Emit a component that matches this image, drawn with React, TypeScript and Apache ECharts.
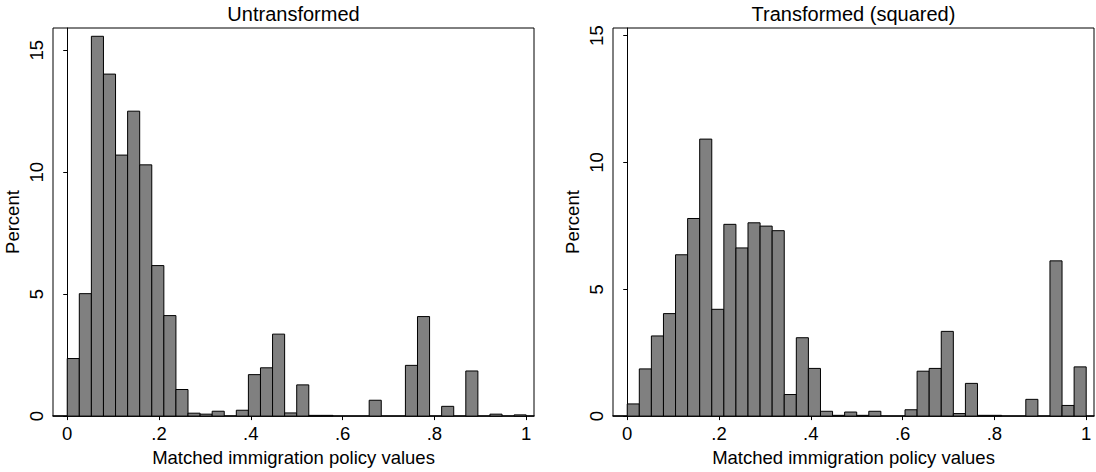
import React, { useEffect, useRef } from "react";
import * as echarts from "echarts";

// ---- data ----
const binCount = 38;
const binStart = 0;
const binEnd = 1;

const untransformedPercent = [
  2.36, 5.02, 15.57, 14.02, 10.7, 12.5, 10.3, 6.17, 4.12, 1.09,
  0.12, 0.08, 0.2, 0, 0.24, 1.7, 1.98, 3.36, 0.13, 1.28,
  0.03, 0.03, 0, 0, 0, 0.65, 0, 0, 2.08, 4.08,
  0, 0.4, 0, 1.85, 0, 0.08, 0, 0.05,
];

const squaredPercent = [
  0.48, 1.86, 3.16, 4.04, 6.36, 7.79, 10.92, 4.21, 7.56, 6.63,
  7.62, 7.49, 7.31, 0.85, 3.09, 1.88, 0.19, 0.03, 0.16, 0.03,
  0.19, 0, 0, 0.25, 1.77, 1.88, 3.34, 0.1, 1.29, 0.03,
  0.03, 0, 0, 0.66, 0, 6.12, 0.42, 1.94,
];

const xTickValues = [0, 0.2, 0.4, 0.6, 0.8, 1];
const yTickValues = [0, 5, 10, 15];
const panelTitles = ["Untransformed", "Transformed (squared)"];
const xAxisTitle = "Matched immigration policy values";
const yAxisTitle = "Percent";

// ---- chart ----
const FONT = '"Liberation Sans", Arial, Helvetica, sans-serif';

function toBins(values: number[]) {
  const w = (binEnd - binStart) / binCount;
  return values.map((v, i) => [binStart + i * w, binStart + (i + 1) * w, v]);
}

const renderBar = (params: any, api: any) => {
  const x0 = api.value(0);
  const x1 = api.value(1);
  const v = api.value(2);
  if (!v) return null;
  const p0 = api.coord([x0, v]);
  const p1 = api.coord([x1, 0]);
  return {
    type: "rect",
    shape: { x: p0[0], y: p0[1], width: p1[0] - p0[0], height: p1[1] - p0[1] },
    style: { fill: "#808080", stroke: "#000", lineWidth: 1 },
  };
};

const xFmt = (v: number) => (v === 0 ? "0" : v === 1 ? "1" : String(v).replace(/^0/, ""));

function makeXAxis(gridIndex: number) {
  return {
    type: "value",
    gridIndex,
    min: -0.031,
    max: 1.017,
    name: xAxisTitle,
    nameLocation: "middle",
    nameGap: 27,
    nameTextStyle: { fontSize: 18.5, color: "#000", fontFamily: FONT },
    axisLine: { show: true, onZero: false, lineStyle: { color: "#000", width: 1.5 } },
    axisTick: { show: true, length: 4, customValues: xTickValues, lineStyle: { color: "#000" } },
    axisLabel: {
      customValues: xTickValues,
      formatter: xFmt,
      fontSize: 18.5,
      color: "#000",
      fontFamily: FONT,
      margin: 8,
    },
    splitLine: { show: false },
  };
}

function makeYAxis(gridIndex: number, max: number) {
  return {
    type: "value",
    gridIndex,
    min: 0,
    max,
    name: yAxisTitle,
    nameLocation: "middle",
    nameGap: 31,
    nameRotate: 90,
    nameTextStyle: { fontSize: 18.5, color: "#000", fontFamily: FONT },
    axisLine: { show: true, lineStyle: { color: "#000", width: 1 } },
    axisTick: { show: true, length: 4, customValues: yTickValues, lineStyle: { color: "#000" } },
    axisLabel: {
      customValues: yTickValues,
      rotate: 90,
      fontSize: 18.5,
      color: "#000",
      fontFamily: FONT,
      margin: 7,
    },
    splitLine: { show: false },
  };
}

export default function App() {
  const ref = useRef<HTMLDivElement>(null);

  useEffect(() => {
    document.body.style.margin = "0";
    if (!ref.current) return;
    const chart = echarts.init(ref.current, null, { renderer: "svg" });
    const grids = [
      { left: 53, top: 28, width: 481, height: 393 },
      { left: 613, top: 28, width: 481, height: 393 },
    ];
    chart.setOption({
      animation: false,
      backgroundColor: "#fff",
      grid: grids.map((g) => ({ ...g, show: true, borderColor: "#000", borderWidth: 1, backgroundColor: "transparent" })),
      xAxis: [makeXAxis(0), makeXAxis(1)],
      yAxis: [makeYAxis(0, 15.91), makeYAxis(1, 15.3)],
      series: [
        {
          type: "custom",
          xAxisIndex: 0,
          yAxisIndex: 0,
          renderItem: renderBar,
          encode: { x: [0, 1], y: 2 },
          data: toBins(untransformedPercent),
        },
        {
          type: "custom",
          xAxisIndex: 1,
          yAxisIndex: 1,
          renderItem: renderBar,
          encode: { x: [0, 1], y: 2 },
          data: toBins(squaredPercent),
        },
      ],
      graphic: grids.map((g, i) => ({
        type: "text",
        x: g.left + g.width / 2,
        y: 4,
        style: {
          text: panelTitles[i],
          fill: "#000",
          fontSize: 20,
          fontFamily: FONT,
          align: "center",
          verticalAlign: "top",
        },
      })),
    });
    return () => chart.dispose();
  }, []);

  return <div ref={ref} style={{ width: 1096, height: 472 }} />;
}
